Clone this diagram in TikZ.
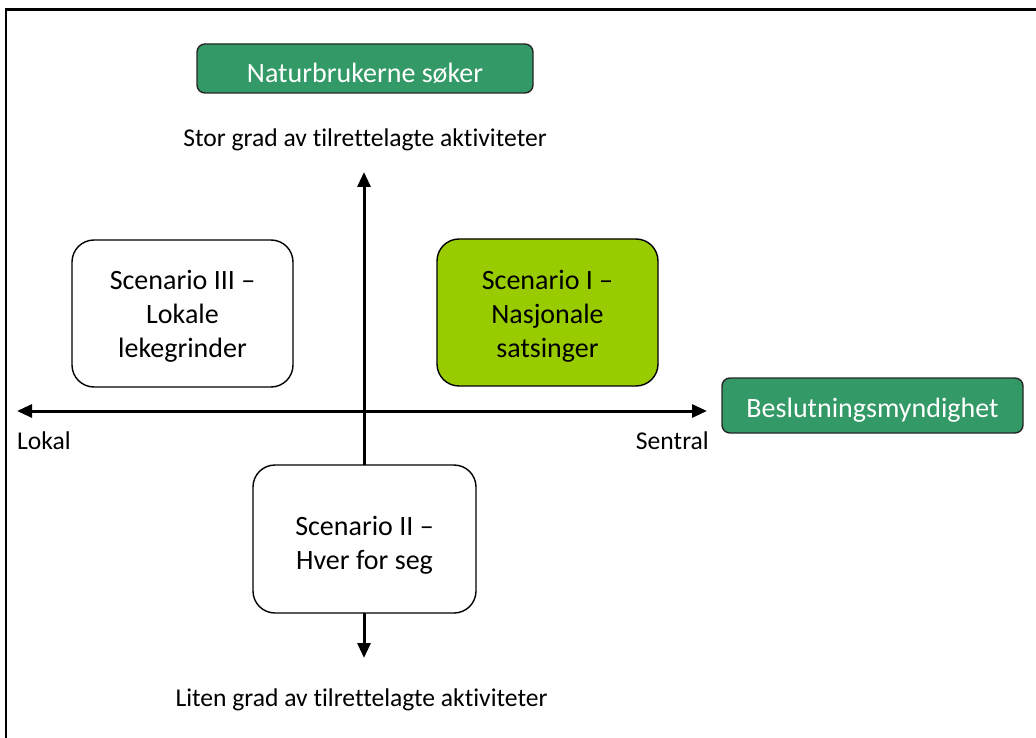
\documentclass[tikz,border=0pt]{standalone}
\usepackage{fontspec}
\setmainfont{Carlito}[Ligatures=NoCommon]
\usetikzlibrary{arrows.meta}
\definecolor{grn}{HTML}{339966}
\definecolor{lime}{HTML}{99CC00}
\begin{document}
\begin{tikzpicture}[x=1pt,y=-1pt,
  boxtxt/.style={font=\fontsize{28}{34}\selectfont, align=center, inner sep=0pt},
  lbltxt/.style={font=\fontsize{25.6}{30}\selectfont, inner sep=0pt},
  scen/.style={draw=black, line width=1.4pt, rounded corners=22pt, fill=white, inner sep=0pt},
  tag/.style={draw=black!85, line width=1.4pt, rounded corners=8pt, fill=grn, inner sep=0pt, text=white, font=\fontsize{28}{34}\selectfont, text depth=0pt},
  axis/.style={line width=3pt, {Triangle[length=15pt,width=13pt]}-{Triangle[length=15pt,width=13pt]}}
]
\useasboundingbox (0,0) rectangle (1036,738);
\clip (0,0) rectangle (1036,738);
\draw[line width=2.5pt] (6,9.5) rectangle (1050,750);

% axes
\coordinate (lft) at (17,411);
\coordinate (rgt) at (707,411);
\coordinate (vtop) at (364,172);
\coordinate (vbot) at (364,658);
\draw[axis] (lft) -- (rgt);
\draw[axis] (vbot) -- (vtop);

% scenario boxes
\node[scen, minimum width=221pt, minimum height=147pt] (s3) at (182.5,313.5) {};
\node[boxtxt] (s3t) at (182.5,316) {Scenario III --\\Lokale\\lekegrinder};
\node[scen, fill=lime, minimum width=221pt, minimum height=147pt] (s1) at (547.5,312.5) {};
\node[boxtxt] (s1t) at (547.5,316) {Scenario I --\\Nasjonale\\satsinger};
\node[scen, minimum width=223pt, minimum height=148pt] (s2) at (364.5,539) {};
\node[boxtxt] (s2t) at (364.5,545) {Scenario II --\\Hver for seg};

% tags
\node[tag, text height=29pt, minimum width=336pt, minimum height=49pt] (nat) at (365,68.5) {Naturbrukerne søker};
\node[tag, text height=23pt, minimum width=301pt, minimum height=55pt] (bes) at (872.5,405.5) {Beslutningsmyndighet};

% labels
\node[lbltxt, anchor=base] (stor) at (365,147) {Stor grad av tilrettelagte aktiviteter};
\node[lbltxt, anchor=base] (liten) at (361.5,706) {Liten grad av tilrettelagte aktiviteter};
\node[lbltxt, anchor=base west] (lok) at (17,449) {Lokal};
\node[lbltxt, anchor=base east] (sen) at (709,449) {Sentral};
\end{tikzpicture}
\end{document}
